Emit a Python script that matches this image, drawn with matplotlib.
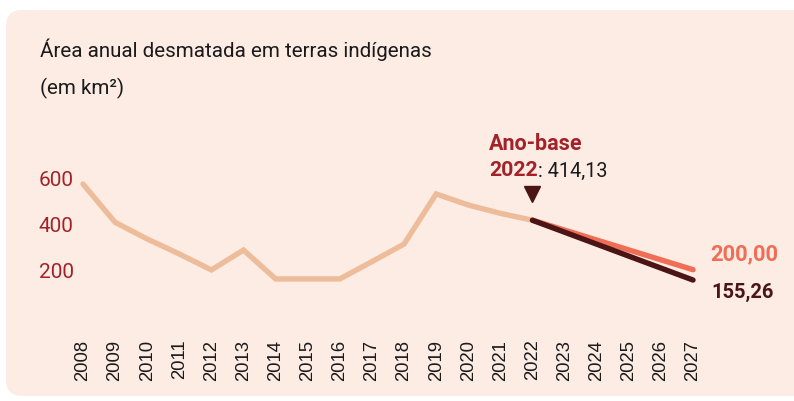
import matplotlib
matplotlib.use("Agg")
import matplotlib.pyplot as plt
import matplotlib.patches as mpatches
from matplotlib.transforms import IdentityTransform

# Historical series (km²)
years = list(range(2008, 2023))
area = [571, 405, 333, 268, 199, 285, 160, 160, 160, 235, 311, 528, 480, 444, 414.13]

# Projections from the base year
proj_years = [2022, 2027]
target = [414.13, 200.00]
trend = [414.13, 155.26]

all_years = list(range(2008, 2028))
y_ticks = [200, 400, 600]

bg = "#FDECE4"
hist_color = "#EDBD9B"
target_color = "#EF6E55"
trend_color = "#4B1515"
red = "#A3222A"

W, H = 794, 402
fig = plt.figure(figsize=(W / 100, H / 100), dpi=100)
fig.patch.set_facecolor("white")

# Rounded background panel (pixel coords)
panel = mpatches.FancyBboxPatch((6, H - 397), 820, 386,
                                boxstyle="round,pad=0,rounding_size=16",
                                transform=IdentityTransform(),
                                facecolor=bg, edgecolor="none", zorder=-5)
fig.patches.append(panel)

def fx(px):
    return px / W

def fy(py):
    return 1 - py / H

# Axes placed so that 2008 -> x=83px, 2027 -> x=693px
left_px, right_px, top_px, bot_px = 78, 780, 130, 330
step = (693 - 83) / 19
scale = 0.231  # px per km²
ax = fig.add_axes([fx(left_px), fy(bot_px), (right_px - left_px) / W, (bot_px - top_px) / H])
ax.set_facecolor("none")
ax.set_xlim(2008 - (83 - left_px) / step, 2027 + (right_px - 693) / step)
ax.set_ylim(200 - (bot_px - 270.7) / scale, 200 + (270.7 - top_px) / scale)

ax.plot(years, area, color=hist_color, lw=3.9, solid_joinstyle="miter", solid_capstyle="round", zorder=2)
ax.plot(proj_years, target, color=target_color, lw=3.9, solid_capstyle="round", zorder=3)
ax.plot(proj_years, trend, color=trend_color, lw=3.9, solid_capstyle="round", zorder=4)

# base-year marker
ax.plot([2022], [414.13 + 115], marker="v", color=trend_color, markersize=11, zorder=5)

for s in ax.spines.values():
    s.set_visible(False)
ax.set_yticks(y_ticks)
ax.set_yticklabels([str(v) for v in y_ticks], family="Roboto", fontsize=15, color=red)
ax.set_xticks(all_years)
ax.set_xticklabels([str(y) for y in all_years], rotation=90, family="Liberation Sans",
                   fontsize=13.3, color="#1a1a1a")
ax.tick_params(axis="both", length=0)
ax.tick_params(axis="y", pad=3)
ax.tick_params(axis="x", pad=7)

# Title
fig.text(fx(40), fy(50), "Área anual desmatada em terras indígenas", family="Roboto",
         fontsize=14.8, color="#1a1a1a", va="center", ha="left")
fig.text(fx(40), fy(88), "(em km²)", family="Roboto", fontsize=14.8,
         color="#1a1a1a", va="center", ha="left")

# Annotation
fig.text(fx(489), fy(144), "Ano-base", family="Roboto", fontweight="bold",
         fontsize=15.5, color=red, va="center", ha="left")
t2022 = fig.text(fx(489), fy(171), "2022", family="Roboto", fontweight="bold",
                 fontsize=15.3, color=red, va="center", ha="left")
ax.annotate(": 414,13", xy=(1, 0.5), xycoords=t2022, family="Roboto",
            fontsize=14.3, color="#1a1a1a", va="center", ha="left",
            annotation_clip=False)

# End labels
fig.text(fx(710), fy(254), "200,00", family="Roboto", fontweight="bold",
         fontsize=15.8, color=target_color, va="center", ha="left")
fig.text(fx(711), fy(292), "155,26", family="Roboto", fontweight="bold",
         fontsize=14.5, color=trend_color, va="center", ha="left")

fig.savefig("out.png", dpi=100, facecolor=fig.get_facecolor())
